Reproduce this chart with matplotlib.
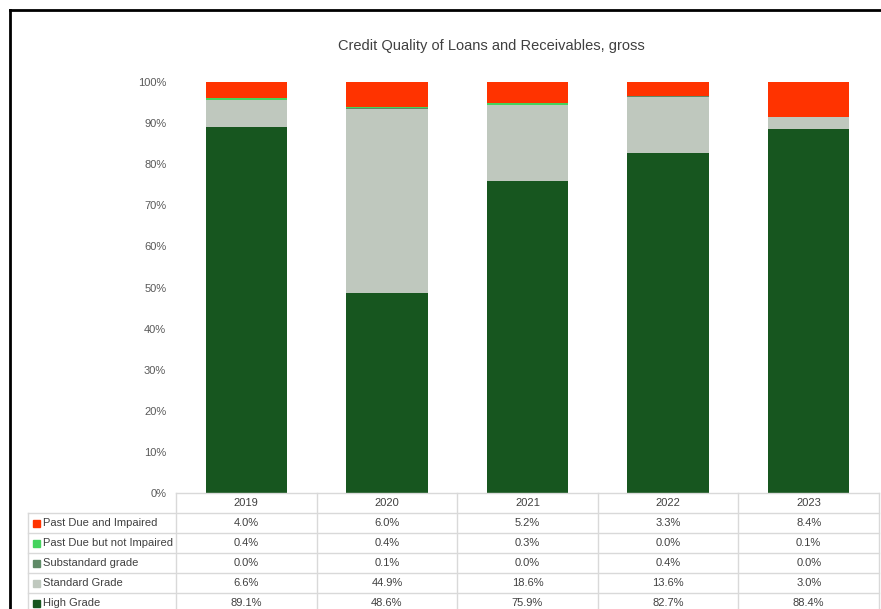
import numpy as np
import matplotlib.pyplot as plt
from matplotlib.lines import Line2D
from matplotlib.patches import Rectangle

# data (percent of gross loans and receivables)
years = ['2019', '2020', '2021', '2022', '2023']
high_grade = [89.1, 48.6, 75.9, 82.7, 88.4]
standard_grade = [6.6, 44.9, 18.6, 13.6, 3.0]
substandard = [0.0, 0.1, 0.0, 0.4, 0.0]
past_due_not_impaired = [0.4, 0.4, 0.3, 0.0, 0.1]
past_due_impaired = [4.0, 6.0, 5.2, 3.3, 8.4]

# stacked bottom -> top
series = [
    ('High Grade', high_grade, '#17561f'),
    ('Standard Grade', standard_grade, '#bfc8be'),
    ('Substandard grade', substandard, '#5f8a67'),
    ('Past Due but not Impaired', past_due_not_impaired, '#45d35e'),
    ('Past Due and Impaired', past_due_impaired, '#ff3300'),
]

W, H = 881, 609
plt.rcParams['font.family'] = ['Liberation Sans', 'DejaVu Sans']
fig = plt.figure(figsize=(W / 100, H / 100), dpi=100)


def fx(px):
    return px / W


def fy(py):
    return 1 - py / H


# plot area in pixels
x0, x1 = 176, 879
y_top, y_bot = 82, 493
ax = fig.add_axes([fx(x0), fy(y_bot), fx(x1 - x0), (y_bot - y_top) / H])

totals = np.sum([s[1] for s in series], axis=0)
x = np.arange(len(years))
bottom = np.zeros(len(years))
for name, vals, col in series:
    v = np.array(vals) / totals * 100
    ax.bar(x, v, bottom=bottom, width=0.58, color=col, label=name)
    bottom += v

ax.set_xlim(-0.5, len(years) - 0.5)
ax.set_ylim(0, 100)
ax.set_yticks(np.arange(0, 101, 10))
ax.set_yticklabels([f'{t}%' for t in range(0, 101, 10)])
ax.tick_params(axis='y', length=0, pad=11, labelsize=8, labelcolor='#595959')
ax.set_xticks([])
for sp in ax.spines.values():
    sp.set_visible(False)

fig.text(fx(491), fy(46), 'Credit Quality of Loans and Receivables, gross',
         ha='center', va='center', fontsize=10.5, color='#404040')

# data table below the plot
grid_col = '#d9d9d9'
txt_col = '#404040'
row_h = 20
label_x0 = 28
col_w = (x1 - x0) / len(years)


def hline(xa, xb, py):
    fig.add_artist(Line2D([fx(xa), fx(xb)], [fy(py), fy(py)], color=grid_col, lw=1))


def vline(px, ya, yb):
    fig.add_artist(Line2D([fx(px), fx(px)], [fy(ya), fy(yb)], color=grid_col, lw=1))


# header row with years
hline(x0, x1, y_bot)
for i, yr in enumerate(years):
    fig.text(fx(x0 + col_w * (i + 0.5)), fy(y_bot + row_h / 2), yr,
             ha='center', va='center', fontsize=8, color=txt_col)

rows = list(reversed(series))
table_top = y_bot + row_h
for r, (name, vals, col) in enumerate(rows):
    ytop = table_top + r * row_h
    hline(label_x0, x1, ytop)
    yc = ytop + row_h / 2
    fig.add_artist(Rectangle((fx(33), fy(yc + 3.5)), fx(7), 7 / H,
                             color=col, transform=fig.transFigure))
    fig.text(fx(43), fy(yc), name, ha='left', va='center', fontsize=8, color=txt_col)
    for i, v in enumerate(vals):
        fig.text(fx(x0 + col_w * (i + 0.5)), fy(yc), f'{v:.1f}%',
                 ha='center', va='center', fontsize=8, color=txt_col)
hline(label_x0, x1, table_top + len(rows) * row_h)

vline(label_x0, table_top, H + 5)
for i in range(len(years) + 1):
    vline(x0 + col_w * i, y_bot, H + 5)

# outer chart border (cropped screenshot)
fig.add_artist(Line2D([fx(10), fx(10)], [fy(10), fy(H + 5)], color='black', lw=2))
fig.add_artist(Line2D([fx(10), fx(W + 5)], [fy(10), fy(10)], color='black', lw=2))

ax.tick_params(axis='y', pad=7)

fig.savefig('out.png', dpi=100)
